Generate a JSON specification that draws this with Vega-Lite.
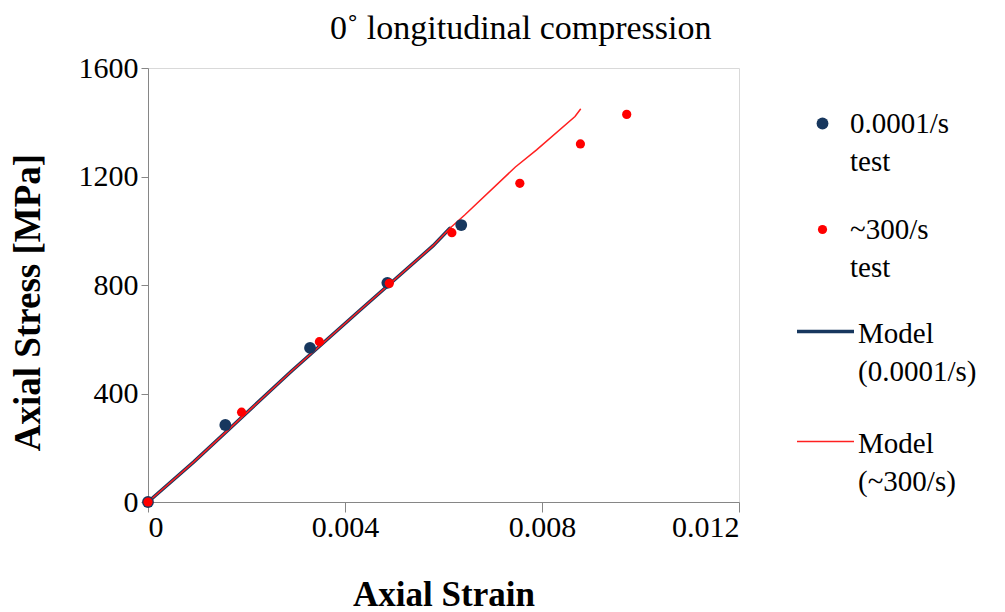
{
  "$schema": "https://vega.github.io/schema/vega-lite/v6.json",
  "autosize": {"type": "none"},
  "padding": {"left": 148, "top": 68, "right": 266, "bottom": 110},
  "width": 591,
  "height": 434,
  "background": "white",
  "config": {
    "font": "Liberation Serif",
    "view": {"stroke": "#D9D9D9", "strokeWidth": 1},
    "style": {"guide-label": {"lineHeight": 38}}
  },
  "title": {
    "text": "0˚ longitudinal compression",
    "font": "Liberation Serif",
    "fontSize": 34,
    "fontWeight": "normal",
    "color": "black",
    "anchor": "start",
    "frame": "group",
    "dx": 182,
    "offset": 7
  },
  "datasets": {
    "tests": [
      {"series": "0.0001/s|test", "strain": 0.0, "stress": 0},
      {"series": "0.0001/s|test", "strain": 0.00157, "stress": 284},
      {"series": "0.0001/s|test", "strain": 0.00329, "stress": 568},
      {"series": "0.0001/s|test", "strain": 0.00486, "stress": 808},
      {"series": "0.0001/s|test", "strain": 0.00636, "stress": 1021},
      {"series": "~300/s|test", "strain": 0.0, "stress": 0},
      {"series": "~300/s|test", "strain": 0.0019, "stress": 331},
      {"series": "~300/s|test", "strain": 0.00348, "stress": 591},
      {"series": "~300/s|test", "strain": 0.0049, "stress": 806},
      {"series": "~300/s|test", "strain": 0.00617, "stress": 993},
      {"series": "~300/s|test", "strain": 0.00755, "stress": 1175},
      {"series": "~300/s|test", "strain": 0.00878, "stress": 1320},
      {"series": "~300/s|test", "strain": 0.00972, "stress": 1429}
    ],
    "models": [
      {"model": "Model|(0.0001/s)", "strain": 0.0, "stress": 0},
      {"model": "Model|(0.0001/s)", "strain": 0.00093, "stress": 148},
      {"model": "Model|(0.0001/s)", "strain": 0.0029, "stress": 480},
      {"model": "Model|(0.0001/s)", "strain": 0.00428, "stress": 703},
      {"model": "Model|(0.0001/s)", "strain": 0.00579, "stress": 945},
      {"model": "Model|(0.0001/s)", "strain": 0.00613, "stress": 1009},
      {"model": "Model|(~300/s)", "strain": 0.0, "stress": 0},
      {"model": "Model|(~300/s)", "strain": 0.00093, "stress": 148},
      {"model": "Model|(~300/s)", "strain": 0.0029, "stress": 480},
      {"model": "Model|(~300/s)", "strain": 0.00428, "stress": 703},
      {"model": "Model|(~300/s)", "strain": 0.00579, "stress": 945},
      {"model": "Model|(~300/s)", "strain": 0.00613, "stress": 1009},
      {"model": "Model|(~300/s)", "strain": 0.00643, "stress": 1058},
      {"model": "Model|(~300/s)", "strain": 0.00746, "stress": 1235},
      {"model": "Model|(~300/s)", "strain": 0.00789, "stress": 1298},
      {"model": "Model|(~300/s)", "strain": 0.00867, "stress": 1421},
      {"model": "Model|(~300/s)", "strain": 0.00878, "stress": 1448}
    ]
  },
  "encoding": {
    "x": {
      "field": "strain", "type": "quantitative",
      "scale": {"domain": [0, 0.012], "nice": false, "zero": false},
      "axis": {
        "title": "Axial Strain",
        "values": [0, 0.004, 0.008, 0.012],
        "format": ".3~f",
        "grid": false,
        "domainColor": "#868686", "tickColor": "#868686",
        "tickSize": 10, "labelPadding": 0,
        "labelFont": "Liberation Serif", "labelFontSize": 30, "labelColor": "black",
        "titleFont": "Liberation Serif", "titleFontSize": 35, "titleFontWeight": "bold", "titleColor": "black",
        "titleY": 92, "titleBaseline": "middle"
      }
    },
    "y": {
      "field": "stress", "type": "quantitative",
      "scale": {"domain": [0, 1600], "nice": false},
      "axis": {
        "title": "Axial Stress [MPa]",
        "values": [0, 400, 800, 1200, 1600],
        "format": "d",
        "grid": false,
        "domainColor": "#868686", "tickColor": "#868686",
        "tickSize": 7, "labelPadding": 3,
        "labelFont": "Liberation Serif", "labelFontSize": 30, "labelColor": "black",
        "titleFont": "Liberation Serif", "titleFontSize": 37, "titleFontWeight": "bold", "titleColor": "black",
        "titleX": -120, "titleY": 234, "titleBaseline": "middle", "titleAlign": "center", "titleAngle": -90
      }
    }
  },
  "layer": [
    {
      "data": {"name": "models"},
      "mark": {"type": "line", "strokeCap": "round"},
      "encoding": {
        "stroke": {
          "field": "model", "type": "nominal",
          "scale": {"domain": ["Model|(0.0001/s)", "Model|(~300/s)"], "range": ["#17375E", "#FF2020"]},
          "legend": {
            "title": null, "orient": "none", "legendX": 647, "legendY": 233,
            "symbolType": "stroke", "symbolSize": 3249,
            "labelExpr": "split(datum.label, '|')",
            "labelFont": "Liberation Serif", "labelFontSize": 29, "labelColor": "black",
            "labelOffset": 2, "labelBaseline": "top", "labelLimit": 300,
            "rowPadding": 25, "padding": 0,
            "encode": {
              "labels": {"update": {"dy": {"value": -12}}},
              "symbols": {"update": {
                "stroke": {"signal": "datum.value === 'Model|(~300/s)' ? '#FF2020' : '#17375E'"},
                "strokeWidth": {"signal": "datum.value === 'Model|(~300/s)' ? 1.8 : 3.5"},
                "strokeOpacity": {"value": 1}
              }}
            }
          }
        },
        "strokeWidth": {
          "field": "model", "type": "nominal",
          "scale": {"domain": ["Model|(0.0001/s)", "Model|(~300/s)"], "range": [3.5, 1.5]},
          "legend": null
        },
        "order": {"field": "strain"}
      }
    },
    {
      "data": {"name": "tests"},
      "mark": {"type": "point", "filled": true, "opacity": 1, "shape": "circle"},
      "encoding": {
        "fill": {
          "field": "series", "type": "nominal",
          "scale": {"domain": ["0.0001/s|test", "~300/s|test"], "range": ["#17375E", "#FF0000"]},
          "legend": {
            "title": null, "orient": "none", "legendX": 660, "legendY": 41,
            "symbolType": "circle",
            "labelExpr": "split(datum.label, '|')",
            "labelFont": "Liberation Serif", "labelFontSize": 29, "labelColor": "black",
            "labelOffset": 13, "labelBaseline": "middle", "labelLimit": 300,
            "rowPadding": 38, "padding": 0
          }
        },
        "size": {
          "field": "series", "type": "nominal",
          "scale": {"domain": ["0.0001/s|test", "~300/s|test"], "range": [140, 85]}
        }
      }
    }
  ]
}
